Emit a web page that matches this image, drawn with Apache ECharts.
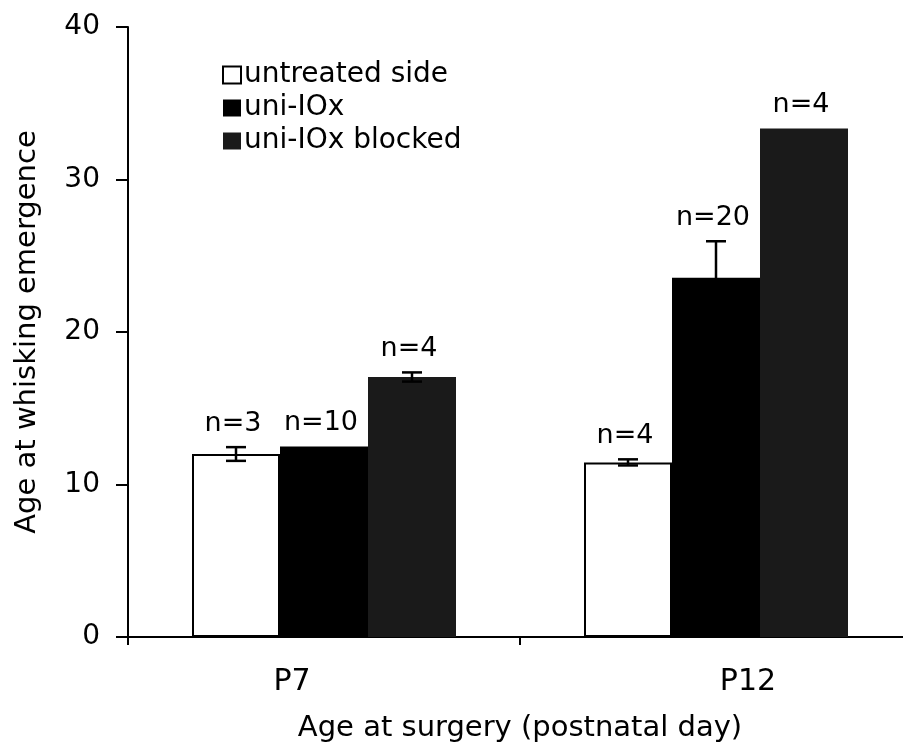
<!DOCTYPE html>
<html>
<head>
<meta charset="utf-8">
<script src="https://cdn.jsdelivr.net/npm/echarts@6/dist/echarts.min.js"></script>
<style>
html,body{margin:0;padding:0;background:#fff;}
#chart{width:903px;height:751px;}
</style>
</head>
<body>
<div id="chart"></div>
<script>
const categories = ['P7', 'P12'];
const seriesNames = ['untreated side', 'uni-IOx', 'uni-IOx blocked'];
const untreated = [12.0, 11.45];
const uniIOx = [12.5, 23.55];
const blocked = [17.05, 33.35];
const untreatedErr = [0.45, 0.2];
const uniIOxErr = [0, 2.4];
const blockedErr = [0.3, 0];
const untreatedN = ['n=3', 'n=4'];
const uniIOxN = ['n=10', 'n=20'];
const blockedN = ['n=4', 'n=4'];
const yTicks = [0, 10, 20, 30, 40];

const FONT = 'DejaVu Sans';
const BAR_W = 88;

const values = [untreated, uniIOx, blocked];
const errs = [untreatedErr, uniIOxErr, blockedErr];
const nLabels = [untreatedN, uniIOxN, blockedN];

// error-bar + n label data: [category index, series index, value, err, label]
const errData = [];
values.forEach((arr, s) => arr.forEach((v, c) => errData.push([c, s, v, errs[s][c], nLabels[s][c]])));

const chart = echarts.init(document.getElementById('chart'));
chart.setOption({
  backgroundColor: '#fff',
  animation: false,
  grid: { left: 128, right: -9, top: 27, bottom: 114, outerBoundsMode: 'none', containLabel: false },
  legend: {
    data: seriesNames,
    orient: 'vertical',
    left: 222,
    top: 61,
    padding: 0,
    icon: 'rect',
    itemWidth: 18,
    itemHeight: 17,
    itemGap: 5,
    textStyle: { fontFamily: FONT, fontSize: 28, color: '#000', lineHeight: 28, padding: [0, 0, 0, -2] },
    selectedMode: false
  },
  xAxis: {
    type: 'category',
    data: categories,
    axisLine: { show: true, lineStyle: { color: '#000', width: 2 } },
    axisTick: { show: true, length: 8, lineStyle: { color: '#000', width: 2 } },
    axisLabel: {
      margin: 30,
      color: '#000',
      fontFamily: FONT,
      fontSize: 30,
      formatter: (v, i) => i === 0 ? '{l|' + v + '}' : '{r|' + v + '}',
      rich: {
        l: { fontFamily: FONT, fontSize: 30, color: '#000', padding: [0, 64, 0, 0] },
        r: { fontFamily: FONT, fontSize: 30, color: '#000', padding: [0, 0, 0, 64] }
      }
    },
    name: 'Age at surgery (postnatal day)',
    nameLocation: 'middle',
    nameGap: 77,
    nameTextStyle: { fontFamily: FONT, fontSize: 29, color: '#000' }
  },
  yAxis: {
    type: 'value',
    min: yTicks[0],
    max: yTicks[yTicks.length - 1],
    interval: 10,
    axisLine: { show: true, lineStyle: { color: '#000', width: 2 } },
    axisTick: { show: true, length: 12, lineStyle: { color: '#000', width: 2 } },
    splitLine: { show: false },
    axisLabel: { margin: 28, color: '#000', fontFamily: FONT, fontSize: 28 },
    name: 'Age at whisking emergence',
    nameLocation: 'middle',
    nameGap: 86,
    nameTextStyle: { fontFamily: FONT, fontSize: 29, color: '#000' }
  },
  series: [
    {
      name: seriesNames[0], type: 'bar', data: untreated, barWidth: BAR_W, barGap: '0%',
      itemStyle: { color: '#fff', borderColor: '#000', borderWidth: 2 }
    },
    {
      name: seriesNames[1], type: 'bar', data: uniIOx, barWidth: BAR_W, barGap: '0%',
      itemStyle: { color: '#000' }
    },
    {
      name: seriesNames[2], type: 'bar', data: blocked, barWidth: BAR_W, barGap: '0%',
      itemStyle: { color: '#1a1a1a' }
    },
    {
      type: 'custom',
      data: errData,
      z: 10,
      renderItem: function (params, api) {
        const c = api.value(0), s = api.value(1), v = api.value(2), e = api.value(3);
        const label = errData[params.dataIndex][4];
        const center = api.coord([c, v]);
        const x = center[0] + (s - 1) * BAR_W;
        const top = api.coord([c, v + e])[1];
        const bot = api.coord([c, v - e])[1];
        const children = [];
        const st = { stroke: '#000', lineWidth: 2.5 };
        if (e > 0) {
          children.push({ type: 'line', shape: { x1: x, y1: top, x2: x, y2: bot }, style: st });
          children.push({ type: 'line', shape: { x1: x - 10, y1: top, x2: x + 10, y2: top }, style: st });
          children.push({ type: 'line', shape: { x1: x - 10, y1: bot, x2: x + 10, y2: bot }, style: st });
        }
        children.push({
          type: 'text',
          x: x - 3,
          y: top - 10,
          style: { text: label, fill: '#000', font: '27px "' + FONT + '"', align: 'center', verticalAlign: 'bottom' }
        });
        return { type: 'group', children: children };
      }
    }
  ]
});
</script>
</body>
</html>
